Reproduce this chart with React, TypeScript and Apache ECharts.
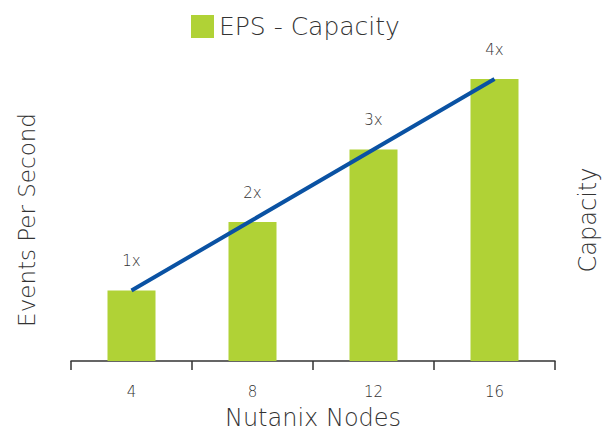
import React, { useEffect, useRef } from "react";
import * as echarts from "echarts";

const categories = ["4", "8", "12", "16"];
const epsValues = [1, 1.97, 3.0, 4.0];
const capacityValues = [1, 2, 3, 4];
const barLabels = ["1x", "2x", "3x", "4x"];

const FONT = "'DejaVu Sans', sans-serif";
const TEXT = "#333333";
const W = 300;

export default function App() {
  const ref = useRef<HTMLDivElement>(null);
  useEffect(() => {
    if (!ref.current) return;
    const chart = echarts.init(ref.current, undefined, { renderer: "svg" });
    chart.setOption({
      animation: false,
      backgroundColor: "#ffffff",
      textStyle: { fontFamily: FONT },
      legend: {
        left: 186,
        top: 9,
        itemWidth: 23,
        itemHeight: 23,
        icon: "rect",
        data: ["EPS - Capacity"],
        textStyle: { fontSize: 25, color: TEXT, fontFamily: FONT, fontWeight: W },
      },
      grid: { left: 71, right: 47, top: 79, bottom: 70 },
      xAxis: {
        type: "category",
        data: categories,
        name: "Nutanix Nodes",
        nameLocation: "middle",
        nameGap: 45,
        nameTextStyle: { fontSize: 24, color: TEXT, fontFamily: FONT, fontWeight: W },
        axisLine: { lineStyle: { color: "#333333", width: 1.5 } },
        axisTick: { show: true, length: 9, alignWithLabel: false, lineStyle: { color: "#333333", width: 1.5 } },
        axisLabel: { fontSize: 15, color: TEXT, margin: 23, fontFamily: FONT, fontWeight: W },
      },
      yAxis: [
        {
          type: "value",
          min: 0,
          max: 4,
          name: "Events Per Second",
          nameLocation: "middle",
          nameGap: 33,
          nameTextStyle: { fontSize: 23, color: TEXT, fontFamily: FONT, fontWeight: W },
          axisLine: { show: false },
          axisTick: { show: false },
          axisLabel: { show: false },
          splitLine: { show: false },
        },
        {
          type: "value",
          min: 0,
          max: 4,
          position: "right",
          name: "Capacity",
          nameLocation: "middle",
          nameGap: 21,
          nameRotate: 90,
          nameTextStyle: { fontSize: 24, color: TEXT, fontFamily: FONT, fontWeight: W },
          axisLine: { show: false },
          axisTick: { show: false },
          axisLabel: { show: false },
          splitLine: { show: false },
        },
      ],
      series: [
        {
          name: "EPS - Capacity",
          type: "bar",
          data: epsValues,
          barWidth: 48,
          itemStyle: { color: "#b0d236" },
          label: {
            show: true,
            position: "top",
            distance: 22,
            fontSize: 15,
            color: TEXT,
            fontFamily: FONT,
            fontWeight: W,
            formatter: (p: any) => barLabels[p.dataIndex],
          },
        },
        {
          name: "Capacity",
          type: "line",
          yAxisIndex: 1,
          data: capacityValues,
          symbol: "none",
          lineStyle: { color: "#0a52a3", width: 4 },
          z: 5,
        },
      ],
    });
    return () => chart.dispose();
  }, []);
  return (
    <div
      ref={ref}
      style={{ position: "absolute", left: 0, top: 0, width: 608, height: 435 }}
    />
  );
}
